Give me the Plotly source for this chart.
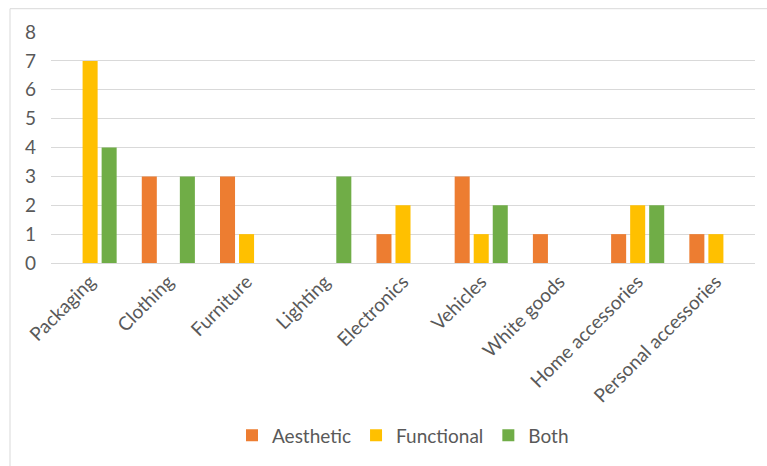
import plotly.graph_objects as go

categories = ["Packaging", "Clothing", "Furniture", "Lighting", "Electronics",
              "Vehicles", "White goods", "Home accessories", "Personal accessories"]
aesthetic = [None, 3, 3, None, 1, 3, 1, 1, 1]
functional = [7, None, 1, None, 2, 1, None, 2, 1]
both = [4, 3, None, 3, None, 2, None, 2, None]
y_ticks = [0, 1, 2, 3, 4, 5, 6, 7, 8]

W, H = 767, 466
L, R, T, B = 51, 12, 32, 201
pw, ph = W - L - R, H - T - B

def px_x(p):
    return (p - L) / pw

def px_y(p):
    return (H - B - p) / ph

font_fam = "Lato, Carlito, Calibri, sans-serif"
txt = "#595959"
fs = 19

fig = go.Figure()
for name, vals, col in [("Aesthetic", aesthetic, "#ED7D31"),
                        ("Functional", functional, "#FFC000"),
                        ("Both", both, "#70AD47")]:
    fig.add_trace(go.Bar(x=categories, y=vals, name=name, marker_color=col,
                         marker_line_width=0))

fig.update_layout(
    width=W, height=H,
    margin=dict(l=L, r=R, t=T, b=B),
    paper_bgcolor="white", plot_bgcolor="white",
    barmode="group", bargap=0.27, bargroupgap=0.21,
    font=dict(family=font_fam, color=txt, size=fs),
    showlegend=True,
    legend=dict(orientation="h", x=0.5, xanchor="center", y=px_y(439), yanchor="middle",
                font=dict(size=fs, color=txt), itemwidth=30, traceorder="normal"),
    xaxis=dict(tickangle=-45, showgrid=False, showline=False, ticks="",
               tickfont=dict(size=fs, color=txt), ticklabelstandoff=3),
    yaxis=dict(range=[0, 8], tickvals=y_ticks, showgrid=True, gridcolor="#D9D9D9",
               gridwidth=1, zeroline=True, zerolinecolor="#D9D9D9", zerolinewidth=1,
               tickfont=dict(size=fs, color=txt), ticks="", ticklen=0,
               ticklabelstandoff=14),
    shapes=[dict(type="rect", xref="paper", yref="paper",
                 x0=px_x(10), x1=px_x(790), y0=px_y(490), y1=px_y(8.5),
                 line=dict(color="#D9D9D9", width=1), fillcolor="rgba(0,0,0,0)",
                 layer="below")],
)
fig.write_html("out.html")
